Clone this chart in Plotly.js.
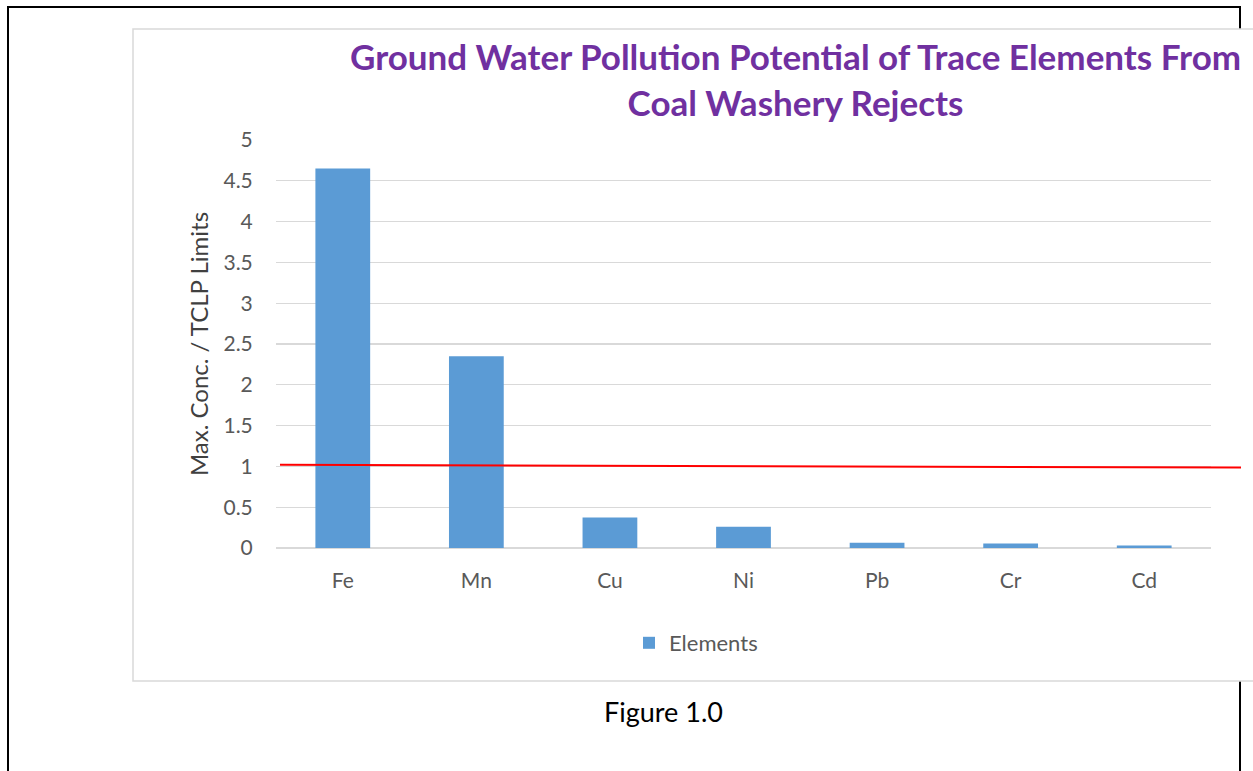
<!DOCTYPE html>
<html>
<head>
<meta charset="utf-8">
<script src="https://cdn.plot.ly/plotly-3.0.1.min.js"></script>
<style>
html,body{margin:0;padding:0;background:#fff;}
#chart{width:1253px;height:771px;}
</style>
</head>
<body>
<div id="chart"></div>
<script>
// ---- data ----
const elements = ["Fe", "Mn", "Cu", "Ni", "Pb", "Cr", "Cd"];
const ratios = [4.65, 2.35, 0.375, 0.26, 0.065, 0.055, 0.032];
const seriesName = "Elements";
const limitLine = [1.02, 0.985]; // hand-drawn TCLP limit line (left end, right end)
const yTicks = [0, 0.5, 1, 1.5, 2, 2.5, 3, 3.5, 4, 4.5, 5];
const chartTitle = "Ground Water Pollution Potential of Trace Elements From<br>Coal Washery Rejects";

// ---- layout helpers (pixel -> paper) ----
const W = 1253, H = 771;
const L = 276, R = 1211, T = 140, B = 548;
const px = x => (x - L) / (R - L);
const py = y => (B - y) / (B - T);

const font = "Lato, 'Open Sans', 'DejaVu Sans', sans-serif";

const trace = {
  type: "bar",
  x: elements,
  y: ratios,
  name: seriesName,
  marker: {color: "#5B9BD5"},
  showlegend: true,
  hoverinfo: "x+y"
};

const layout = {
  width: W, height: H,
  margin: {l: L, r: W - R, t: T, b: H - B, pad: 0},
  paper_bgcolor: "#ffffff",
  plot_bgcolor: "rgba(0,0,0,0)",
  bargap: 0.59,
  xaxis: {
    type: "category",
    showgrid: false, zeroline: false, showline: false,
    ticks: "outside", ticklen: 14, tickcolor: "rgba(0,0,0,0)",
    tickfont: {family: font, size: 21, color: "#595959"}
  },
  yaxis: {
    range: [0, 5], tickvals: yTicks, ticktext: yTicks.map(String),
    showgrid: true, gridcolor: "#d9d9d9", gridwidth: 1.3,
    zeroline: true, zerolinecolor: "#d9d9d9", zerolinewidth: 1.3,
    showline: false, ticks: "outside", ticklen: 18, tickcolor: "rgba(0,0,0,0)",
    tickfont: {family: font, size: 21, color: "#595959"},
    title: {text: "Max. Conc. / TCLP Limits", font: {family: font, size: 24, color: "#404040"}, standoff: 8}
  },
  legend: {
    orientation: "h", x: px(696), xanchor: "center", y: py(643), yanchor: "middle",
    font: {family: font, size: 22, color: "#595959"},
    bgcolor: "rgba(0,0,0,0)", itemwidth: 30
  },
  shapes: [
    // outer document border (black)
    {type: "rect", xref: "paper", yref: "paper", x0: px(8), x1: px(1240), y0: py(7), y1: py(800),
     line: {color: "#000000", width: 2}, fillcolor: "rgba(0,0,0,0)", layer: "below"},
    // chart area box (light grey)
    {type: "rect", xref: "paper", yref: "paper", x0: px(133), x1: px(1270), y0: py(29), y1: py(681),
     line: {color: "#d9d9d9", width: 1.5}, fillcolor: "#ffffff", layer: "below"},
    // TCLP limit line
    {type: "line", xref: "paper", yref: "y", x0: px(280), x1: px(1241), y0: limitLine[0], y1: limitLine[1],
     line: {color: "#FF0000", width: 2}}
  ],
  annotations: [
    {text: "<b>" + chartTitle + "</b>", xref: "paper", yref: "paper", x: px(795), y: py(79),
     xanchor: "center", yanchor: "middle", align: "center", showarrow: false,
     font: {family: font, size: 35, color: "#7030A0"}},
    {text: "Figure 1.0", xref: "paper", yref: "paper", x: px(663), y: py(711),
     xanchor: "center", yanchor: "middle", showarrow: false,
     font: {family: font, size: 27, color: "#000000"}}
  ]
};

Plotly.newPlot("chart", [trace], layout, {displayModeBar: false, staticPlot: true});
</script>
</body>
</html>
